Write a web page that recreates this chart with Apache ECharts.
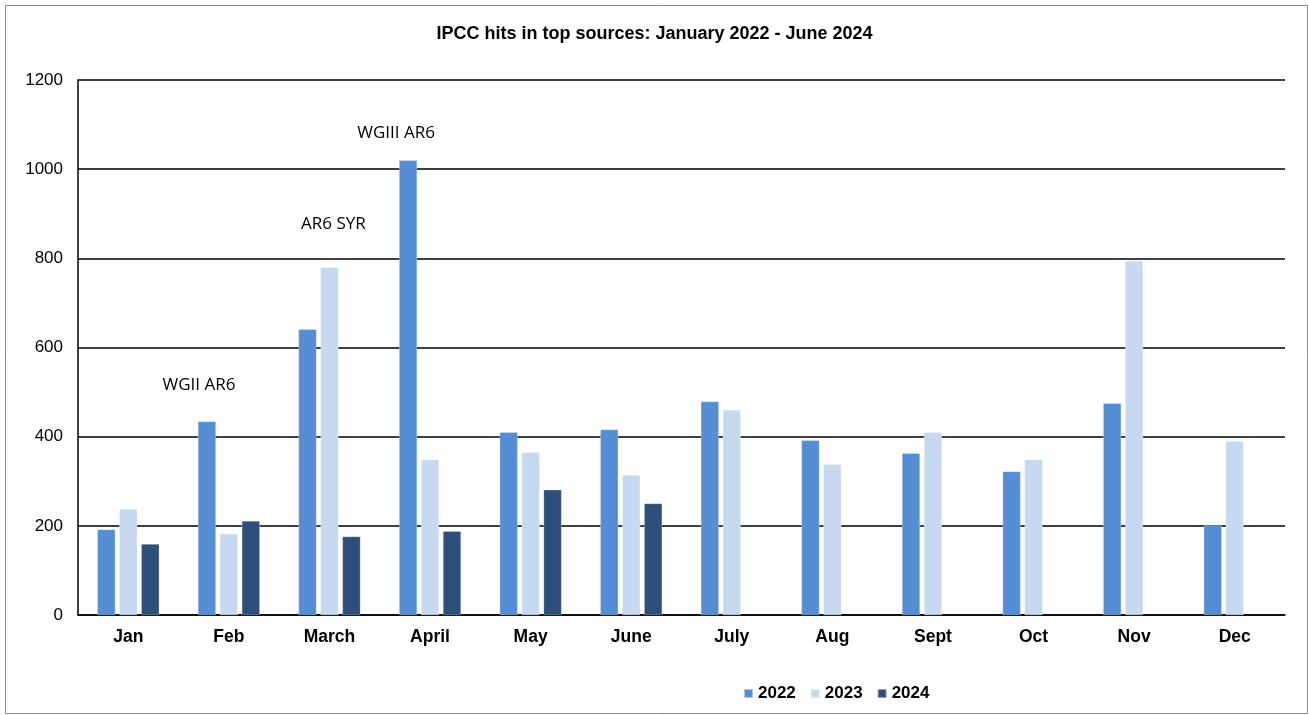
<!DOCTYPE html>
<html><head><meta charset="utf-8">
<script src="https://cdn.jsdelivr.net/npm/echarts@6/dist/echarts.min.js"></script>
<style>html,body{margin:0;padding:0;background:#fff}#c{width:1309px;height:715px}</style>
</head><body><div id="c"></div>
<script>
const months = ['Jan','Feb','March','April','May','June','July','Aug','Sept','Oct','Nov','Dec'];
const y2022 = [192, 434, 641, 1020, 410, 416, 479, 392, 363, 322, 475, 201];
const y2023 = [238, 182, 780, 348, 365, 314, 460, 338, 410, 349, 794, 390];
const y2024 = [159, 211, 176, 188, 281, 250, null, null, null, null, null, null];
const yTicks = {min: 0, max: 1200, interval: 200};
const notes = [
  {series: '2022', month: 'Feb', value: 516, text: 'WGII AR6', dx: -8},
  {series: '2023', month: 'March', value: 877, text: 'AR6 SYR', dx: 4},
  {series: '2022', month: 'April', value: 1081, text: 'WGIII AR6', dx: -12}
];
const colors = {'2022': '#558ED5', '2023': '#C6D9F1', '2024': '#2D4F7A'};

function mk(name, data) {
  const mp = notes.filter(n => n.series === name).map(n => ({
    coord: [n.month, n.value],
    symbol: 'circle', symbolSize: 1,
    itemStyle: {color: 'rgba(0,0,0,0)'},
    label: {show: true, formatter: n.text, position: 'inside', offset: [n.dx, 0],
      color: '#000', fontFamily: 'Open Sans', fontSize: 17}
  }));
  return {
    name, type: 'bar', data, barWidth: 18, barGap: '22%',
    itemStyle: {color: colors[name], borderColor: 'rgba(255,255,255,0.5)', borderWidth: 0.5},
    markPoint: mp.length ? {data: mp, silent: true, animation: false} : undefined,
    animation: false
  };
}

const chart = echarts.init(document.getElementById('c'), null, {renderer: 'canvas'});
chart.setOption({
  backgroundColor: '#fff',
  animation: false,
  graphic: [{type: 'rect', left: 3, top: 3, shape: {width: 1302, height: 708},
    style: {fill: 'none', stroke: '#8c8c8c', lineWidth: 1}, silent: true, z: -1}],
  title: {text: 'IPCC hits in top sources: January 2022 - June 2024', left: 'center', top: 20,
    textStyle: {fontFamily: 'Liberation Sans', fontSize: 18, fontWeight: 'bold', color: '#000'}},
  grid: {left: 78, right: 24, top: 80, bottom: 100},
  legend: {data: ['2022', '2023', '2024'], left: 738, top: 680, itemWidth: 9, itemHeight: 9, itemGap: 14,
    icon: 'rect', textStyle: {fontFamily: 'Liberation Sans', fontSize: 17, fontWeight: 'bold', color: '#000'}},
  xAxis: {type: 'category', data: months,
    axisLine: {lineStyle: {color: '#000', width: 1.5}},
    axisTick: {show: false},
    axisLabel: {fontFamily: 'Liberation Sans', fontSize: 17.5, fontWeight: 'bold', color: '#000', margin: 13}},
  yAxis: {type: 'value', min: yTicks.min, max: yTicks.max, interval: yTicks.interval,
    axisLine: {show: true, lineStyle: {color: '#000', width: 1.5}},
    axisTick: {show: false},
    splitLine: {lineStyle: {color: '#000', width: 1.5}},
    axisLabel: {fontFamily: 'Liberation Sans', fontSize: 17, color: '#000', margin: 15, formatter: v => String(v)}},
  series: [mk('2022', y2022), mk('2023', y2023), mk('2024', y2024)]
});
</script></body></html>
